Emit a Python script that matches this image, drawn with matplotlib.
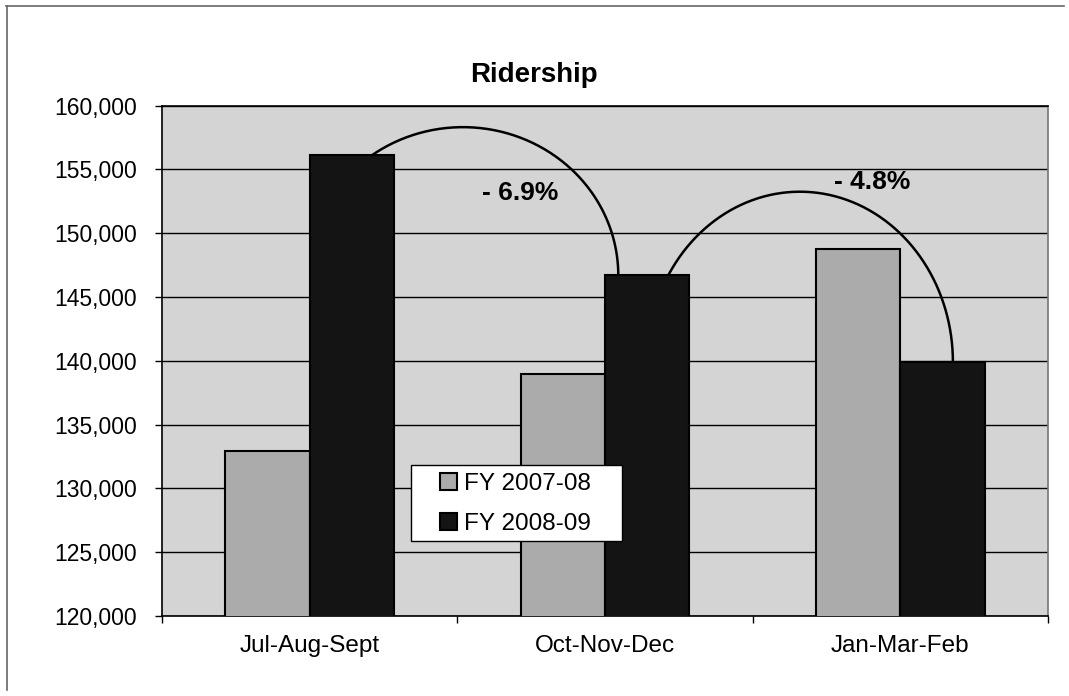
import numpy as np
import matplotlib
matplotlib.use("Agg")
import matplotlib.pyplot as plt
from matplotlib.ticker import FuncFormatter, FixedLocator
from matplotlib.patches import Rectangle

# ---- data ----
categories = ["Jul-Aug-Sept", "Oct-Nov-Dec", "Jan-Mar-Feb"]
series_names = ["FY 2007-08", "FY 2008-09"]
fy0708 = [132900, 139000, 148800]
fy0809 = [156100, 146700, 139900]
change_labels = ["- 6.9%", "- 4.8%"]
y_ticks = [120000, 125000, 130000, 135000, 140000, 145000, 150000, 155000, 160000]

plt.rcParams['font.family'] = ['Liberation Sans', 'DejaVu Sans']

W, H = 1069, 696
fig = plt.figure(figsize=(W/100, H/100), dpi=100)
fig.patch.set_facecolor("white")
ax = fig.add_axes([162/W, 1-616/H, 886/W, 510.3/H])
ax.set_facecolor("#d4d4d4")

x = np.arange(len(categories))
bw = 1/3.5
ax.bar(x - bw/2, fy0708, width=bw, color="#ababab", edgecolor="black",
       linewidth=1.5, label=series_names[0], zorder=3)
ax.bar(x + bw/2, fy0809, width=bw, color="#141414", edgecolor="black",
       linewidth=1.5, label=series_names[1], zorder=3)

ax.set_xlim(-0.5, len(categories) - 0.5)
ax.set_ylim(y_ticks[0], y_ticks[-1])
ax.set_yticks(y_ticks)
ax.yaxis.set_major_formatter(FuncFormatter(lambda v, p: f"{int(v):,}"))
ax.yaxis.grid(True, color="black", linewidth=1, zorder=1)
ax.set_axisbelow(True)
ax.tick_params(axis="y", direction="out", length=5, width=1, pad=13, labelsize=16.5)

ax.set_xticks(x)
ax.set_xticklabels(categories, fontsize=17.5)
ax.tick_params(axis="x", which="major", length=0, pad=14)
ax.xaxis.set_minor_locator(FixedLocator(np.arange(len(categories) + 1) - 0.5))
ax.tick_params(axis="x", which="minor", direction="out", length=5, width=1)

for s in ax.spines.values():
    s.set_color("black")
    s.set_linewidth(1.2)
ax.spines["right"].set_color("#777777")

# ---- change arcs (ellipse arcs from one FY08-09 bar top to the next) ----
arc_specs = [
    # (start category, end category, end x offset, rx, start angle deg)
    (0, 1, 0.045, 0.526, 126.0),
    (1, 2, 0.178, 0.518, 149.4),
]
for (i0, i1, xo, rx, t0d) in arc_specs:
    y_start = fy0809[i0]
    y_end = fy0809[i1]
    t0 = np.deg2rad(t0d)
    ry = (y_start - y_end) / np.sin(t0)
    cx = i1 + xo - rx
    t = np.linspace(0, t0, 200)
    ax.plot(cx + rx*np.cos(t), y_end + ry*np.sin(t), color="black", lw=1.8,
            zorder=4, solid_capstyle="butt")

label_pos = [(0.712, 153150), (1.904, 154020)]
for lab, (lx, ly) in zip(change_labels, label_pos):
    ax.text(lx, ly, lab, fontsize=19, fontweight="bold", ha="center", va="center",
            zorder=5)

# legend box (white, black edge) with legend entries inside
box = Rectangle(((411-162)/886, (616-541)/510.3), 211/886, 76/510.3,
                transform=ax.transAxes, facecolor="white", edgecolor="black",
                linewidth=1, zorder=6)
ax.add_patch(box)
leg = ax.legend(loc="upper left", bbox_to_anchor=((440-162)/886, (616-473)/510.3),
                borderaxespad=0, borderpad=0, fontsize=17.5, frameon=False,
                handlelength=0.7, handleheight=0.7, handletextpad=0.3,
                labelspacing=0.72)
leg.set_zorder(7)

fig.text(534/W, 1-75/H, "Ridership", fontsize=20, fontweight="bold",
         ha="center", va="center")

# chart-area border (top and left as visible in the scan)
fig.add_artist(plt.Line2D([6/W, 1064/W], [1-6/H, 1-6/H], color="#666666", lw=1.2))
fig.add_artist(plt.Line2D([7/W, 7/W], [1-6/H, 1-690/H], color="#666666", lw=1.2))

fig.savefig("out.png", dpi=100)
